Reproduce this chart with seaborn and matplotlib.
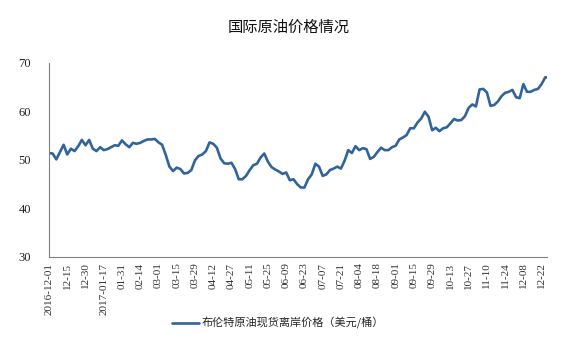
import matplotlib
matplotlib.use("Agg")
import matplotlib.pyplot as plt
import seaborn as sns
import pandas as pd
import numpy as np

# ---- data ----
title = "国际原油价格情况"
series_name = "布伦特原油现货离岸价格（美元/桶）"
tick_labels = ["2016-12-01", "12-15", "12-30", "2017-01-17", "01-31", "02-14",
               "03-01", "03-15", "03-29", "04-12", "04-27", "05-11", "05-25",
               "06-09", "06-23", "07-07", "07-21", "08-04", "08-18", "09-01",
               "09-15", "09-29", "10-13", "10-27", "11-10", "11-24", "12-08",
               "12-22"]
trading_days_per_tick = 10
sample_step = 2  # one reading every 2 trading days
prices = [
    51.4, 51.3, 50.1, 51.6, 53.1, 51.1, 52.3, 51.8, 52.8, 54.1,
    53.0, 54.1, 52.3, 51.8, 52.6, 52.0, 52.2, 52.6, 53.0, 52.9,
    54.0, 53.2, 52.6, 53.5, 53.3, 53.5, 53.9, 54.2, 54.2, 54.3,
    53.6, 53.1, 51.0, 48.6, 47.7, 48.4, 48.1, 47.2, 47.3, 47.9,
    49.9, 50.8, 51.1, 51.8, 53.6, 53.3, 52.5, 50.3, 49.3, 49.2,
    49.4, 48.1, 46.0, 46.0, 46.7, 47.9, 48.9, 49.2, 50.5, 51.3,
    49.6, 48.5, 48.0, 47.6, 47.1, 47.4, 45.8, 46.0, 45.0, 44.3,
    44.3, 46.0, 47.0, 49.2, 48.6, 46.7, 47.0, 47.9, 48.2, 48.6,
    48.2, 49.8, 52.0, 51.4, 52.8, 52.0, 52.4, 52.2, 50.2, 50.6,
    51.6, 52.5, 52.0, 52.0, 52.6, 52.9, 54.2, 54.6, 55.1, 56.5,
    56.5, 57.7, 58.5, 59.9, 58.9, 56.1, 56.6, 55.9, 56.5, 56.7,
    57.5, 58.4, 58.1, 58.2, 59.0, 60.7, 61.4, 61.0, 64.5, 64.6,
    63.9, 61.1, 61.3, 62.0, 63.1, 63.8, 64.0, 64.4, 62.9, 62.7,
    65.6, 64.0, 64.0, 64.4, 64.6, 65.6, 67.0, 66.9,
]
y_ticks = [30, 40, 50, 60, 70]

df = pd.DataFrame({
    "day": np.arange(len(prices)) * sample_step,
    "price": prices,
})

# ---- figure ----
sns.set_style("white")
plt.rcParams["font.family"] = ["Noto Sans CJK SC", "DejaVu Sans"]

fig = plt.figure(figsize=(5.64, 3.53), dpi=100)
ax = fig.add_axes([0.0869, 0.272, 0.8831, 0.5504])

line_color = "#31649B"
sns.lineplot(data=df, x="day", y="price", ax=ax, color=line_color,
             linewidth=1.9, label=series_name)

ax.set_xlim(0, 273)
ax.set_ylim(30, 70)
ax.set_yticks(y_ticks)
ax.set_yticklabels([str(v) for v in y_ticks])
xt = np.arange(len(tick_labels)) * trading_days_per_tick
ax.set_xticks(xt)
ax.set_xticklabels(tick_labels, rotation=90)
ax.tick_params(axis="y", length=0, pad=13, colors="#222222")
ax.tick_params(axis="x", direction="in", length=3, width=0.6, pad=4,
               color="#808080", labelcolor="#333333")
ax.set_xlabel("")
ax.set_ylabel("")
for s in ["top", "right"]:
    ax.spines[s].set_visible(False)
for s in ["left", "bottom"]:
    ax.spines[s].set_color("#808080")
    ax.spines[s].set_linewidth(0.8)

for lab in ax.get_yticklabels():
    lab.set_fontfamily(["Liberation Serif"])
    lab.set_fontsize(9)
for lab in ax.get_xticklabels():
    lab.set_fontfamily(["Liberation Serif"])
    lab.set_fontsize(8)

fig.text(0.511, 0.924, title, ha="center", va="center", fontsize=11,
         color="#111111")

ax.legend(loc="center", bbox_to_anchor=(0.493, 0.085),
          bbox_transform=fig.transFigure, frameon=False, fontsize=8,
          handlelength=2.4, handletextpad=0.3, borderpad=0)

fig.savefig("out.png", dpi=100, facecolor="white")
